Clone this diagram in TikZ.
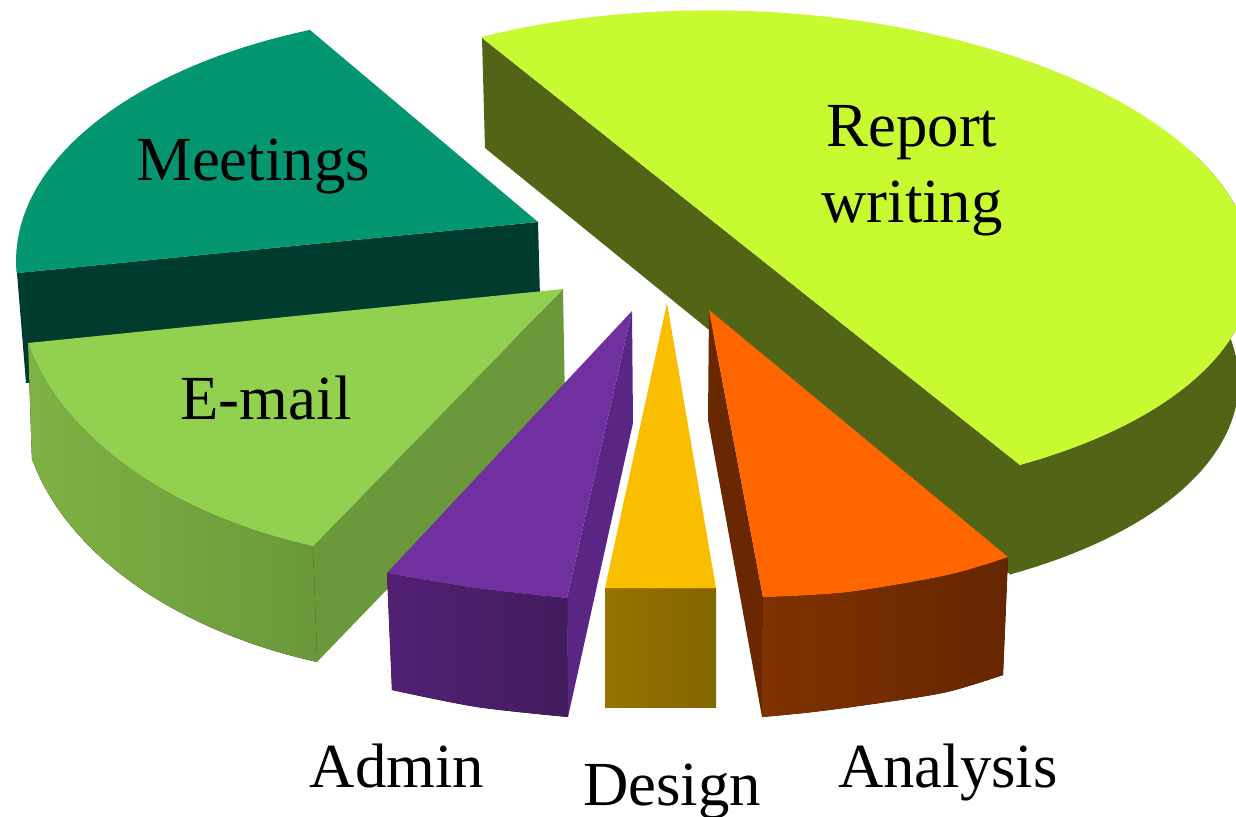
\documentclass[tikz,border=0pt]{standalone}
\usepackage{fontspec}
\setmainfont{Liberation Serif}
\definecolor{rwtop}{RGB}{200,250,50}
\definecolor{rwside}{RGB}{82,101,22}
\definecolor{mtop}{RGB}{3,150,113}
\definecolor{mside}{RGB}{0,60,45}
\definecolor{etop}{RGB}{146,208,80}
\definecolor{ecut}{RGB}{106,152,58}
\definecolor{esidel}{RGB}{127,178,68}
\definecolor{esider}{RGB}{106,152,58}
\definecolor{atop}{RGB}{112,48,160}
\definecolor{acut}{RGB}{91,38,131}
\definecolor{asidel}{RGB}{82,32,115}
\definecolor{asider}{RGB}{66,28,94}
\definecolor{dtop}{RGB}{250,190,0}
\definecolor{dsidel}{RGB}{150,115,0}
\definecolor{dsider}{RGB}{132,102,0}
\definecolor{antop}{RGB}{255,102,0}
\definecolor{ancut}{RGB}{105,40,0}
\definecolor{ansidel}{RGB}{128,50,0}
\definecolor{ansider}{RGB}{102,38,0}
\tikzset{
  lbl/.style={font=\fontsize{63}{76}\selectfont, inner sep=0pt, anchor=base},
  declare function={
    ex(\c,\a,\b,\r,\t)=\c+\a*cos(\t)*cos(\r)-\b*sin(\t)*sin(\r);
    ey(\c,\a,\b,\r,\t)=\c+\a*cos(\t)*sin(\r)+\b*sin(\t)*cos(\r);
  },
}
\begin{document}
\begin{tikzpicture}[x=1bp,y=-1bp]
    \useasboundingbox (0,0) rectangle (1236,817);
    \clip (0,0) rectangle (1236,817);
    \fill[rwside] (482,38) -- (485,148) -- (1011,575)
        -- plot[domain=56:-30,samples=50,variable=\t] ({ex(739,500,238,2.3,\t)},{ey(366,500,238,2.3,\t)})
        -- plot[domain=-30:56,samples=50,variable=\t] ({ex(743,510,242,2.3,\t)},{ey(253,510,242,2.3,\t)}) -- cycle;
    \fill[rwtop] (1020,465) -- (481,37)
        -- plot[domain=-122:56,samples=90,variable=\t] ({ex(743,510,242,2.3,\t)},{ey(253,510,242,2.3,\t)}) -- cycle;
    \fill[mside] (17,273) -- (538,222) -- (541,335) -- (26,383) -- cycle;
    \fill[mtop] (538,222) -- (310,30)
        -- plot[domain=-111.8:-182.8,samples=40,variable=\t] ({ex(484,468,249,0,\t)},{ey(261,468,249,0,\t)}) -- cycle;
    \fill[ecut] (563,289) -- (565,405) -- (317,662) -- (313,546) -- cycle;
    \fill[left color=esidel,right color=esider] (28,343)
        -- plot[domain=166.8:109.2,samples=40,variable=\t] ({ex(462.6,442.4,283.8,0,\t)},{ey(394,442.4,283.8,0,\t)})
        -- (313,546)
        -- plot[domain=109.2:166.8,samples=40,variable=\t] ({ex(458.6,442.4,283.8,0,\t)},{ey(278,442.4,283.8,0,\t)}) -- cycle;
    \fill[etop] (563,289) -- (28,343)
        -- plot[domain=166.8:109.2,samples=40,variable=\t] ({ex(458.6,442.4,283.8,0,\t)},{ey(278,442.4,283.8,0,\t)}) -- cycle;
    \fill[acut] (632,311) -- (633,423) -- (568,717) -- (567,598) -- cycle;
    \fill[left color=asidel,right color=asider] (387,573)
        -- plot[smooth] coordinates {(387,573) (477,588) (567,598)}
        -- (568,717)
        -- plot[smooth] coordinates {(568,717) (477,707) (392,690)} -- cycle;
    \fill[atop] (632,311) -- (387,573)
        -- plot[smooth] coordinates {(387,573) (477,588) (567,598)} -- cycle;
    \fill[left color=dsidel,right color=dsider] (605,588) -- (716,588) -- (716,707) -- (605,707) -- cycle;
    \fill[dtop] (667,303) -- (605,588) -- (716,588) -- cycle;
    \fill[ancut] (709,310) -- (708,420) -- (762,717) -- (763,597) -- cycle;
    \fill[left color=ansidel,right color=ansider] (763,597)
        -- plot[smooth] coordinates {(763,597) (847,592) (947,575) (1008,557)}
        -- (1003,675)
        -- plot[smooth] coordinates {(1003,675) (947,692) (880,703) (813,712) (762,717)} -- cycle;
    \fill[antop] (709,310) -- (1008,557)
        -- plot[smooth] coordinates {(1008,557) (947,575) (847,592) (763,597)} -- cycle;
    \node[lbl] (meetings) at (253,180) {Meetings};
    \node[lbl] (email) at (266,419) {E-mail};
    \node[lbl,anchor=center,align=center] (report) at (912,171) {Report\\writing};
    \node[lbl] (admin) at (397,787) {Admin};
    \node[lbl] (design) at (672,805) {Design};
    \node[lbl] (analysis) at (948,787) {Analysis};
\end{tikzpicture}
\end{document}
